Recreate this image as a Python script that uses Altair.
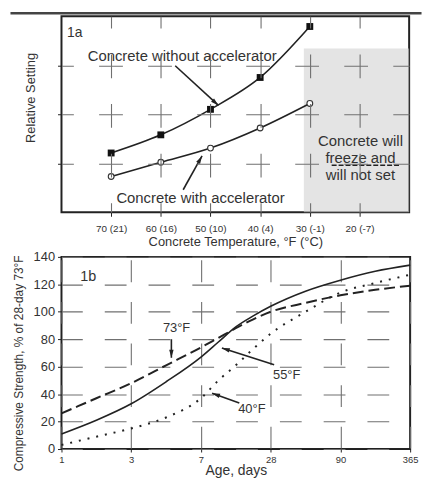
import math
import json
import altair as alt
import pandas as pd

FONT = "Liberation Sans"
INK = "#222222"
TXT = "#333333"
GRID = "#707070"

# ---------------- Panel 1a data ----------------
temps = [70, 60, 50, 40, 30]
without_acc = [1.21, 1.58, 2.10, 2.75, 3.79]
with_acc = [0.73, 1.02, 1.31, 1.72, 2.22]
temp_ticks = [70, 60, 50, 40, 30, 20]
temp_labels = ["70 (21)", "60 (16)", "50 (10)", "40 (4)", "30 (-1)", "20 (-7)"]
freeze_x = [31.2, 10]
freeze_y = [0, 3.34]

notes1_text = ["Concrete without accelerator", "Concrete with accelerator",
               "Concrete will", "freeze and", "will not set"]
notes1_x = [55.7, 52.0, 19.8, 19.8, 19.8]
notes1_y = [3.19, 0.29, 1.45, 1.11, 0.77]
tag1_x, tag1_y = [78.9], [3.66]
under_x = [25.6, 11.8]
under_y = [0.96]
arrows1_tail_x = [57.1, 55.5]
arrows1_tail_y = [2.99, 0.46]
arrows1_tip_x = [48.4, 51.7]
arrows1_tip_y = [2.18, 1.15]

# ---------------- Panel 1b data ----------------
age_ticks = [0, 1, 2, 3, 4, 5]
age_labels = ["1", "3", "7", "28", "90", "365"]
age_pos = [0, 0.5, 1, 1.5, 2, 2.25, 2.5, 2.75, 3, 3.5, 4, 4.5, 5]
s73 = [26, 37, 48, 61, 74, 81, 88, 94.5, 100, 106.5, 112, 116, 119]
s55 = [11, 21, 33, 49, 67, 78, 89, 97, 104, 115, 123, 129.5, 134]
s40 = [3, 9, 15, 23, 37, 50, 61, 73, 84, 100, 114, 121, 127]
strength_ticks = [0, 20, 40, 60, 80, 100, 120, 140]

notes2_text = ["73°F", "55°F", "40°F"]
notes2_x = [1.65, 3.23, 2.73]
notes2_y = [88, 53.6, 29.3]
tag2_x, tag2_y = [0.27], [125]
arrows2_tail_x = [1.576, 3.05, 2.55]
arrows2_tail_y = [80, 61.4, 33.6]
arrows2_tip_x = [1.576, 2.30, 2.16]
arrows2_tip_y = [66.5, 73.6, 40.7]

# ---------------- layout ----------------
W1, H1 = 351, 198
W2, H2 = 352, 194
X1DOM, Y1DOM = [80, 10], [0, 4]
X2DOM, Y2DOM = [0, 5], [0, 140]

ARROW = "M0,0L-0.5,1.8L0.5,1.8Z"


def angles(tx, ty, hx, hy, kx, ky):
    out = []
    for a, b, c, d in zip(tx, ty, hx, hy):
        dx = (c - a) * kx
        dy = (d - b) * ky
        out.append(math.degrees(math.atan2(dx, -dy)) % 360)
    return out


lab1 = "(" + json.dumps({str(k): v for k, v in zip(temp_ticks, temp_labels)}) + ")[datum.value]"
lab2 = "(" + json.dumps({str(k): v for k, v in zip(age_ticks, age_labels)}) + ")[datum.value]"

x1 = alt.X("x:Q", scale=alt.Scale(domain=X1DOM, nice=False, zero=False),
           axis=alt.Axis(values=temp_ticks, labelExpr=lab1, title="Concrete Temperature, °F (°C)",
                         grid=True, gridDash=[24, 26.1], gridDashOffset=12, gridColor=GRID,
                         gridWidth=1.1, domain=False, tickSize=4, tickColor=INK,
                         labelFlush=False, labelFontSize=10, labelPadding=7, labelColor=TXT,
                         titleFontSize=13, titlePadding=3, titleColor=TXT, titleFontWeight="normal",
                         zindex=1))
y1 = alt.Y("y:Q", scale=alt.Scale(domain=Y1DOM, nice=False, zero=False),
           axis=alt.Axis(values=[1, 2, 3], labels=False, title="Relative Setting",
                         grid=True, gridDash=[24, 25.5], gridDashOffset=12, gridColor=GRID,
                         gridWidth=1.1, domain=False, tickSize=4, tickColor=INK,
                         titleFontSize=13, titlePadding=20, titleColor=TXT, titleY=82,
                         titleFontWeight="normal", zindex=1))

df_freeze = pd.DataFrame({"x": [freeze_x[0]], "x2": [freeze_x[1]], "y": [freeze_y[0]], "y2": [freeze_y[1]]})
freeze = alt.Chart(df_freeze).mark_rect(color="#d2d2d2", opacity=0.6).encode(
    x=x1, x2="x2:Q", y=y1, y2="y2:Q")

df_wo = pd.DataFrame({"x": temps, "y": without_acc})
df_w = pd.DataFrame({"x": temps, "y": with_acc})
line_wo = alt.Chart(df_wo).mark_line(color=INK, strokeWidth=1.6, interpolate="monotone").encode(x=x1, y=y1)
pts_wo = alt.Chart(df_wo).mark_point(shape="square", filled=True, color="#111", size=48, opacity=1).encode(x=x1, y=y1)
line_w = alt.Chart(df_w).mark_line(color=INK, strokeWidth=1.6, interpolate="monotone").encode(x=x1, y=y1)
pts_w = alt.Chart(df_w).mark_point(shape="circle", filled=True, fill="white", stroke="#333",
                                    strokeWidth=1.1, size=34, opacity=1).encode(x=x1, y=y1)

df_n1 = pd.DataFrame({"x": notes1_x, "y": notes1_y, "t": notes1_text})
notes1 = alt.Chart(df_n1).mark_text(font=FONT, fontSize=15, color=TXT, align="center", baseline="middle").encode(
    x=x1, y=y1, text="t:N")
df_tag1 = pd.DataFrame({"x": tag1_x, "y": tag1_y, "t": ["1a"]})
tag1 = alt.Chart(df_tag1).mark_text(font=FONT, fontSize=14, color=TXT, align="left", baseline="middle").encode(
    x=x1, y=y1, text="t:N")
df_under = pd.DataFrame({"x": [under_x[0]], "x2": [under_x[1]], "y": under_y})
under = alt.Chart(df_under).mark_rule(color=INK, strokeWidth=1.3, strokeDash=[5, 2]).encode(
    x=x1, x2="x2:Q", y=y1)

k1x, k1y = -W1 / (X1DOM[0] - X1DOM[1]), -H1 / (Y1DOM[1] - Y1DOM[0])
df_a1 = pd.DataFrame({"x": arrows1_tail_x, "y": arrows1_tail_y, "x2": arrows1_tip_x, "y2": arrows1_tip_y})
df_h1 = pd.DataFrame({"x": arrows1_tip_x, "y": arrows1_tip_y,
                      "a": angles(arrows1_tail_x, arrows1_tail_y, arrows1_tip_x, arrows1_tip_y, k1x, k1y)})
arr1 = alt.Chart(df_a1).mark_rule(color=INK, strokeWidth=1.6).encode(x=x1, y=y1, x2="x2:Q", y2="y2:Q")
head1 = alt.Chart(df_h1).mark_point(shape=ARROW, filled=True, color=INK, size=80, opacity=1).encode(
    x=x1, y=y1, angle=alt.Angle("a:Q", scale=None))

topline = alt.Chart(alt.Data(values=[{"k": 0}])).mark_rule(color="#444", strokeWidth=2.5).encode(
    x=alt.value(-51.5), x2=alt.value(363.5), y=alt.value(-3))

top = alt.layer(freeze, line_wo, line_w, pts_wo, pts_w, notes1, tag1, arr1, head1, topline, under).properties(
    width=W1, height=H1)

# ---------------- bottom panel ----------------
x2e = alt.X("x:Q", scale=alt.Scale(domain=X2DOM, nice=False, zero=False),
            axis=alt.Axis(values=age_ticks, labelExpr=lab2, title="Age, days",
                          grid=True, gridDash=[22, 20], gridDashOffset=39, gridColor=GRID,
                          gridWidth=1.1, domain=False, tickSize=3, tickColor=INK,
                          labelFlush=False, labelFontSize=9.5, labelPadding=3, labelColor=TXT,
                          titleFontSize=14, titlePadding=-1, titleColor=TXT, titleFontWeight="normal"))
y2e = alt.Y("y:Q", scale=alt.Scale(domain=Y2DOM, nice=False, zero=False),
            axis=alt.Axis(values=strength_ticks, title="Compressive Strength, % of 28-day 73°F",
                          grid=True, gridDash=[22, 22.2], gridDashOffset=1, gridColor=GRID,
                          gridWidth=1.1, domain=False, tickSize=4, tickColor=INK,
                          labelFontSize=13, labelPadding=3, labelColor=TXT,
                          titleFontSize=12, titlePadding=8, titleColor=TXT, titleY=107,
                          titleFontWeight="normal"))

df73 = pd.DataFrame({"x": age_pos, "y": s73})
df55 = pd.DataFrame({"x": age_pos, "y": s55})
df40 = pd.DataFrame({"x": age_pos, "y": s40})
c73 = alt.Chart(df73).mark_line(color=INK, strokeWidth=2, strokeDash=[11, 5], interpolate="monotone").encode(x=x2e, y=y2e)
c55 = alt.Chart(df55).mark_line(color=INK, strokeWidth=1.6, interpolate="monotone").encode(x=x2e, y=y2e)
c40 = alt.Chart(df40).mark_line(color=INK, strokeWidth=2, strokeDash=[2, 7], interpolate="monotone").encode(x=x2e, y=y2e)

df_n2 = pd.DataFrame({"x": notes2_x, "y": notes2_y, "t": notes2_text})
notes2 = alt.Chart(df_n2).mark_text(font=FONT, fontSize=13, color=TXT, align="center", baseline="middle").encode(
    x=x2e, y=y2e, text="t:N")
df_tag2 = pd.DataFrame({"x": tag2_x, "y": tag2_y, "t": ["1b"]})
tag2 = alt.Chart(df_tag2).mark_text(font=FONT, fontSize=14.5, color=TXT, align="left", baseline="middle").encode(
    x=x2e, y=y2e, text="t:N")

k2x, k2y = W2 / (X2DOM[1] - X2DOM[0]), -H2 / (Y2DOM[1] - Y2DOM[0])
df_a2 = pd.DataFrame({"x": arrows2_tail_x, "y": arrows2_tail_y, "x2": arrows2_tip_x, "y2": arrows2_tip_y})
df_h2 = pd.DataFrame({"x": arrows2_tip_x, "y": arrows2_tip_y,
                      "a": angles(arrows2_tail_x, arrows2_tail_y, arrows2_tip_x, arrows2_tip_y, k2x, k2y)})
arr2 = alt.Chart(df_a2).mark_rule(color=INK, strokeWidth=1.6).encode(x=x2e, y=y2e, x2="x2:Q", y2="y2:Q")
head2 = alt.Chart(df_h2).mark_point(shape=ARROW, filled=True, color=INK, size=80, opacity=1).encode(
    x=x2e, y=y2e, angle=alt.Angle("a:Q", scale=None))

bottom = alt.layer(c73, c55, c40, notes2, tag2, arr2, head2).properties(width=W2, height=H2)

chart = alt.vconcat(top, bottom, spacing=0).properties(padding=0, background="white").configure_view(
    stroke=INK, strokeWidth=2).configure_axis(labelFont=FONT, titleFont=FONT).configure_text(font=FONT)

chart.save("out.html", embed_options={"renderer": "svg", "actions": False})
